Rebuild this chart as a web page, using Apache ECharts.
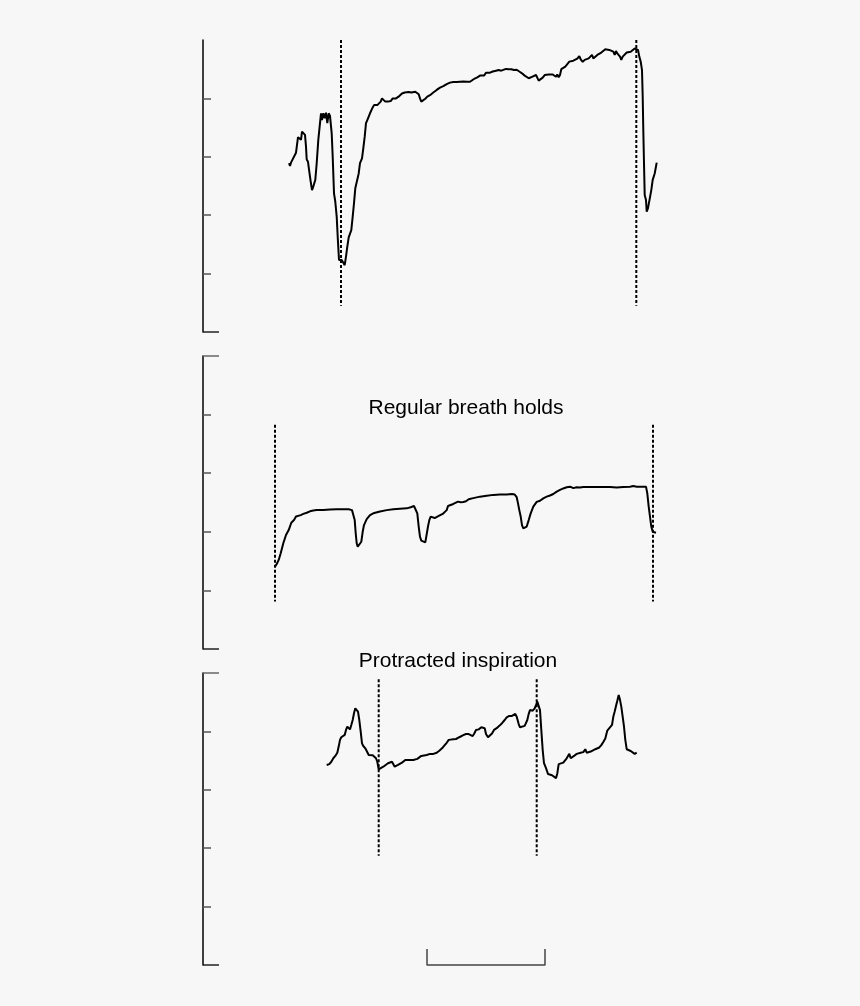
<!DOCTYPE html>
<html>
<head>
<meta charset="utf-8">
<script src="https://cdn.jsdelivr.net/npm/echarts@6/dist/echarts.min.js"></script>
<style>
html,body{margin:0;padding:0;background:#f7f7f7;}
#chart{width:860px;height:1006px;}
</style>
</head>
<body>
<div id="chart"></div>
<script>
// time (s) , value (arbitrary units, 0-100 full scale per panel)
const trace1 = [[9.9,57.8],[10.0,56.9],[10.1,58.0],[10.2,58.7],[10.4,59.1],[10.6,61.4],[10.8,66.7],[11.0,66.7],[11.1,65.8],[11.2,68.6],[11.33,69.0],[11.5,67.5],[11.6,63.5],[11.67,59.1],[11.8,58.3],[11.93,54.9],[12.07,51.5],[12.2,48.6],[12.33,49.8],[12.53,52.1],[12.67,57.8],[12.83,65.8],[13.0,71.5],[13.1,74.9],[13.2,72.6],[13.33,74.9],[13.47,73.2],[13.6,75.1],[13.73,71.5],[13.87,74.9],[14.0,74.0],[14.17,68.0],[14.27,60.0],[14.4,47.5],[14.53,44.6],[14.67,39.5],[14.77,32.6],[14.9,24.7],[15.03,25.2],[15.17,24.7],[15.33,24.1],[15.47,22.9],[15.6,25.8],[15.73,29.2],[15.87,32.4],[16.0,32.4],[16.13,34.9],[16.27,39.5],[16.4,44.1],[16.53,49.2],[16.67,49.8],[16.87,54.3],[17.0,57.8],[17.2,59.5],[17.33,62.9],[17.47,66.9],[17.6,71.5],[17.73,72.6],[17.87,73.2],[18.0,74.9],[18.13,75.5],[18.27,76.9],[18.4,77.7],[18.53,78.3],[18.73,77.7],[18.93,77.2],[19.07,78.9],[19.2,80.0],[19.33,79.5],[19.53,78.9],[19.8,78.9],[20.07,79.1],[20.27,80.0],[20.4,79.5],[20.6,80.0],[20.8,80.6],[20.93,80.8],[21.07,81.2],[21.2,81.7],[21.47,82.0],[21.67,82.2],[21.87,82.2],[22.13,82.0],[22.33,82.3],[22.53,82.3],[22.73,82.2],[22.87,81.4],[23.0,80.0],[23.13,78.9],[23.33,79.2],[23.53,79.9],[23.73,80.6],[24.0,81.1],[24.33,82.0],[24.67,82.9],[25.0,83.7],[25.33,84.2],[25.67,84.9],[26.0,85.4],[26.33,85.6],[26.67,85.6],[27.0,85.7],[27.33,85.8],[27.53,86.1],[27.73,85.7],[28.0,85.7],[28.2,86.3],[28.47,86.8],[28.73,87.2],[29.0,87.8],[29.2,88.4],[29.4,87.8],[29.6,88.8],[29.8,88.2],[30.0,88.8],[30.27,89.2],[30.4,88.8],[30.6,89.5],[30.87,89.7],[31.13,89.5],[31.33,90.0],[31.6,90.1],[31.87,90.0],[32.13,90.0],[32.4,89.7],[32.67,89.8],[32.93,89.2],[33.2,88.6],[33.47,87.8],[33.67,87.4],[33.87,86.9],[34.0,86.3],[34.2,87.4],[34.4,87.7],[34.6,88.0],[34.73,87.4],[34.87,86.1],[35.07,86.1],[35.27,87.1],[35.47,88.0],[35.67,88.6],[35.87,88.2],[36.07,88.8],[36.27,88.2],[36.47,88.8],[36.6,87.4],[36.73,88.2],[36.87,87.2],[37.0,88.0],[37.13,90.0],[37.33,90.5],[37.53,90.9],[37.73,91.4],[37.93,92.6],[38.13,92.9],[38.33,92.9],[38.53,93.2],[38.73,93.6],[38.93,94.5],[39.07,93.4],[39.27,92.5],[39.47,93.2],[39.67,93.7],[39.87,93.7],[40.07,94.3],[40.2,94.9],[40.33,93.7],[40.53,94.3],[40.73,94.9],[40.93,95.2],[41.13,95.7],[41.33,96.2],[41.53,96.8],[41.73,96.4],[41.93,96.6],[42.13,96.2],[42.33,96.0],[42.47,94.9],[42.6,96.2],[42.73,95.4],[42.87,96.0],[43.0,94.3],[43.13,93.2],[43.27,94.3],[43.47,94.9],[43.67,95.7],[43.87,95.4],[44.07,96.0],[44.27,96.4],[44.47,97.1],[44.67,97.5],[44.8,96.6],[44.93,94.3],[45.07,92.6],[45.2,89.7],[45.27,80.6],[45.33,69.2],[45.4,57.8],[45.47,46.9],[45.6,45.2],[45.67,41.2],[45.8,42.4],[46.0,42.4],[46.13,48.6],[46.27,52.1],[46.47,54.3],[46.67,58.0]];

const trace2 = [[8.5,28.1],[8.67,29.0],[8.87,30.4],[9.07,32.7],[9.33,36.1],[9.6,38.9],[9.87,40.6],[10.13,43.1],[10.4,44.0],[10.6,45.2],[10.8,45.7],[11.07,45.7],[11.33,46.1],[11.67,46.5],[12.0,47.0],[12.33,47.3],[12.67,47.4],[13.33,47.4],[14.0,47.6],[14.67,47.7],[15.33,47.7],[15.87,47.7],[16.2,47.4],[16.4,46.8],[16.47,44.0],[16.57,39.5],[16.67,36.1],[16.77,34.9],[16.93,35.4],[17.13,36.6],[17.27,40.0],[17.4,42.3],[17.67,44.3],[18.0,45.7],[18.33,46.3],[19.0,46.9],[19.67,47.4],[20.33,47.7],[21.0,47.9],[21.67,48.0],[22.07,48.4],[22.4,48.8],[22.6,48.6],[22.73,46.3],[22.87,41.8],[23.0,38.3],[23.13,37.0],[23.33,36.4],[23.53,36.4],[23.67,36.7],[23.8,41.8],[23.93,44.0],[24.07,45.2],[24.27,45.2],[24.47,44.7],[24.67,44.3],[24.87,45.4],[25.07,45.2],[25.27,46.1],[25.47,46.5],[25.67,47.4],[25.8,48.8],[26.0,49.1],[26.33,49.5],[26.53,49.9],[26.8,50.3],[27.07,50.1],[27.33,50.2],[27.6,50.4],[27.87,51.1],[28.33,51.5],[29.0,52.0],[29.67,52.3],[30.33,52.6],[31.0,52.7],[31.67,52.7],[32.2,52.9],[32.47,52.7],[32.67,51.8],[32.8,49.7],[32.93,47.4],[33.07,45.2],[33.2,42.3],[33.33,41.2],[33.53,40.8],[33.67,41.8],[33.87,44.0],[34.07,46.3],[34.33,48.6],[34.67,50.2],[35.0,50.6],[35.33,51.4],[35.67,52.0],[36.0,52.4],[36.33,52.9],[36.67,53.7],[37.0,54.3],[37.33,54.8],[37.67,55.2],[38.0,55.4],[38.33,54.9],[38.67,55.2],[39.0,55.1],[39.33,55.3],[40.0,55.3],[40.67,55.3],[41.33,55.3],[42.0,55.3],[42.67,55.1],[43.33,55.3],[44.0,55.4],[44.33,55.6],[44.67,55.4],[45.33,55.4],[45.6,55.4],[45.73,53.1],[45.87,48.6],[46.0,45.2],[46.13,41.8],[46.27,40.0],[46.4,39.8],[46.6,39.7]];

const trace3 = [[13.67,68.5],[13.8,68.2],[13.93,68.8],[14.13,69.6],[14.33,70.8],[14.53,71.6],[14.73,72.7],[14.87,74.8],[15.0,77.1],[15.13,78.0],[15.33,78.2],[15.47,78.8],[15.6,80.5],[15.73,81.6],[15.87,82.2],[16.0,80.7],[16.13,82.2],[16.27,83.9],[16.4,86.2],[16.53,87.9],[16.67,88.2],[16.8,86.8],[16.93,83.9],[17.07,79.9],[17.2,75.9],[17.33,75.0],[17.53,74.2],[17.67,73.3],[17.87,71.9],[18.07,71.4],[18.27,71.8],[18.47,71.4],[18.6,70.8],[18.73,69.6],[18.87,67.0],[19.07,67.4],[19.33,67.9],[19.53,68.5],[19.8,69.1],[20.0,69.6],[20.2,69.6],[20.33,69.4],[20.47,67.9],[20.6,67.7],[20.8,68.5],[21.0,68.5],[21.2,69.3],[21.33,69.6],[21.53,70.2],[21.73,70.0],[21.93,70.2],[22.13,70.0],[22.33,70.2],[22.53,69.6],[22.73,70.6],[22.93,70.8],[23.13,71.6],[23.33,71.6],[23.67,71.9],[24.0,72.3],[24.33,72.3],[24.67,72.7],[24.93,73.4],[25.2,74.2],[25.47,75.3],[25.67,76.1],[25.87,77.1],[26.07,77.3],[26.33,77.3],[26.6,77.4],[26.8,77.1],[26.93,78.0],[27.13,78.0],[27.33,78.7],[27.6,79.1],[27.87,79.1],[28.07,78.7],[28.27,78.4],[28.4,79.1],[28.6,80.5],[28.87,80.7],[29.13,81.4],[29.33,81.9],[29.47,81.1],[29.6,79.1],[29.8,78.0],[30.0,78.2],[30.2,79.3],[30.4,80.5],[30.67,81.1],[30.93,81.9],[31.2,82.8],[31.47,83.9],[31.67,84.8],[31.93,85.3],[32.2,85.3],[32.33,85.6],[32.53,86.0],[32.67,85.0],[32.87,82.5],[33.0,81.4],[33.2,81.4],[33.47,81.9],[33.73,83.9],[33.87,86.0],[34.0,87.3],[34.13,87.9],[34.27,87.1],[34.47,87.9],[34.6,89.0],[34.73,90.2],[34.87,90.5],[35.0,87.3],[35.13,80.5],[35.27,73.6],[35.4,69.1],[35.6,67.4],[35.8,65.4],[36.0,65.1],[36.2,65.0],[36.33,64.7],[36.6,64.0],[36.73,65.6],[36.87,68.8],[37.07,69.1],[37.33,69.3],[37.53,69.6],[37.67,70.8],[37.8,71.6],[37.93,72.3],[38.07,70.8],[38.2,71.1],[38.4,71.6],[38.67,72.3],[38.87,72.5],[39.07,72.7],[39.33,72.9],[39.53,73.9],[39.67,72.7],[39.87,72.5],[40.07,73.1],[40.27,73.6],[40.53,73.9],[40.73,73.9],[40.93,74.5],[41.13,75.3],[41.33,76.4],[41.53,77.6],[41.73,80.3],[41.93,80.7],[42.2,82.2],[42.33,85.0],[42.47,86.8],[42.6,88.7],[42.73,90.5],[42.87,92.5],[43.0,90.8],[43.13,88.5],[43.27,85.0],[43.4,81.6],[43.53,77.1],[43.67,73.9],[43.87,73.4],[44.07,73.3],[44.27,72.9],[44.47,72.3],[44.53,71.9],[44.67,72.7]];

// event markers: [time, top value, bottom value]
const markers1 = [[15.1,100,9.0],[44.63,100,9.0]];
const markers2 = [[8.5,76.5,16.2],[46.3,76.5,16.2]];
const markers3 = [[18.87,97.9,37.4],[34.67,97.9,37.4]];

// time scale bar (panel 3): start, end, height
const scaleBar = [23.7, 35.5, 5.5];

const titles = ['Regular breath holds', 'Protracted inspiration'];

const innerTicks = [20, 40, 60, 80];
const bottomTicks = [0];
const topTicks = [[], [100], [100]];

const grids = [
  {left: 203, top: 40, width: 460, height: 292},
  {left: 203, top: 356, width: 460, height: 293},
  {left: 203, top: 673, width: 460, height: 292}
];

const xAxes = grids.map((g, i) => ({
  type: 'value', gridIndex: i, min: 1.3, max: 47.3, show: false
}));

function tickAxis(i, values, len, color, line) {
  return {
    type: 'value', gridIndex: i, min: 0, max: 100, position: 'left',
    axisLine: {show: line, lineStyle: {color: '#000', width: 1.5}},
    axisTick: {show: values.length > 0, inside: true, length: len, customValues: values,
               lineStyle: {color: color, width: 1.5}},
    axisLabel: {show: false}, splitLine: {show: false}
  };
}

const yAxes = [];
grids.forEach((g, i) => {
  yAxes.push(tickAxis(i, innerTicks, 8, '#555', true));
  yAxes.push(tickAxis(i, bottomTicks, 16, '#222', false));
  yAxes.push(tickAxis(i, topTicks[i], 16, '#666', false));
});

const traces = [trace1, trace2, trace3];
const markers = [markers1, markers2, markers3];
const series = [];
traces.forEach((tr, i) => {
  series.push({
    type: 'line', xAxisIndex: i, yAxisIndex: i * 3, data: tr,
    showSymbol: false, symbol: 'none', smooth: false, animation: false,
    lineStyle: {color: '#000', width: 2}, z: 5
  });
  markers[i].forEach(m => {
    series.push({
      type: 'line', xAxisIndex: i, yAxisIndex: i * 3,
      data: [[m[0], m[1]], [m[0], m[2]]],
      symbol: 'none', animation: false, clip: false,
      lineStyle: {color: '#000', width: 2, type: [3, 2]}, z: 4
    });
  });
});
series.push({
  type: 'line', xAxisIndex: 2, yAxisIndex: 6,
  data: [[scaleBar[0], scaleBar[2]], [scaleBar[0], 0], [scaleBar[1], 0], [scaleBar[1], scaleBar[2]]],
  symbol: 'none', animation: false, clip: false,
  lineStyle: {color: '#444', width: 1.5}
});

const chart = echarts.init(document.getElementById('chart'), null, {renderer: 'canvas'});
chart.setOption({
  backgroundColor: '#f7f7f7',
  animation: false,
  title: [
    {text: titles[0], left: 461, top: 393, textAlign: 'center',
     textStyle: {fontFamily: 'Liberation Sans, Arial, sans-serif', fontSize: 21, fontWeight: 'normal', color: '#000'}},
    {text: titles[1], left: 453, top: 646, textAlign: 'center',
     textStyle: {fontFamily: 'Liberation Sans, Arial, sans-serif', fontSize: 21, fontWeight: 'normal', color: '#000'}}
  ],
  grid: grids,
  xAxis: xAxes,
  yAxis: yAxes,
  series: series
});
</script>
</body>
</html>
